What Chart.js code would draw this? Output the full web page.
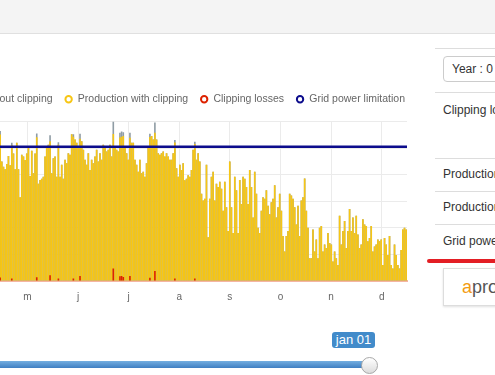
<!DOCTYPE html>
<html>
<head>
<meta charset="utf-8">
<script src="https://cdn.jsdelivr.net/npm/chart.js@4.4.1/dist/chart.umd.min.js"></script>
<style>
  html, body { margin: 0; padding: 0; width: 495px; height: 375px; overflow: hidden; background: #fff;
    font-family: "Liberation Sans", Arial, sans-serif; }
  .topbar { position: absolute; left: 0; top: 0; width: 495px; height: 33px; background: #f4f4f4; border-bottom: 1px solid #e0e0e0; }
  #clipChart { position: absolute; left: -110px; top: 82px; }
  .hline { position: absolute; left: 435px; width: 70px; height: 1px; background: #ddd; }
  .select { position: absolute; left: 443px; top: 56px; width: 80px; height: 26px; box-sizing: border-box;
    border: 1px solid #ccc; border-radius: 4px; font-size: 12px; color: #333; line-height: 24px; padding-left: 8px; white-space: nowrap; }
  .row { position: absolute; left: 443px; font-size: 12px; color: #333; white-space: nowrap; line-height: 14px; }
  .redbar { position: absolute; left: 427px; top: 259px; width: 80px; height: 4px; border-radius: 2px; background: #e31e24; }
  .logo { position: absolute; left: 443px; top: 268px; width: 70px; height: 38px; box-sizing: border-box;
    border: 1px solid #ddd; box-shadow: 0 1px 2px rgba(0,0,0,0.12); font-size: 18px; line-height: 36px; padding-left: 18px; color: #555; white-space: nowrap; }
  .logo b { color: #f39c12; font-weight: normal; }
  .track { position: absolute; left: -10px; top: 361px; width: 382px; height: 7px; border-radius: 4px;
    background: linear-gradient(#74aee0, #3f7fc2); }
  .knob { position: absolute; left: 361px; top: 357px; width: 17px; height: 17px; border-radius: 50%; box-sizing: border-box;
    background: linear-gradient(#ffffff, #dcdcdc); border: 1px solid #a8a8a8; }
  .tip { position: absolute; left: 332px; top: 332px; width: 43px; height: 16px; border-radius: 3px; background: #428bca;
    color: #fff; font-size: 13px; line-height: 16px; text-align: center; }
</style>
</head>
<body>
<div class="topbar"></div>
<canvas id="clipChart" width="527" height="231"></canvas>

<div class="hline" style="top:48px"></div>
<div class="select">Year : 0</div>
<div class="hline" style="top:92px"></div>
<div class="row" style="top:103px">Clipping losses</div>
<div class="hline" style="top:158px"></div>
<div class="row" style="top:167px">Production without clipping</div>
<div class="hline" style="top:191px"></div>
<div class="row" style="top:200px">Production with clipping</div>
<div class="hline" style="top:224px"></div>
<div class="row" style="top:234px">Grid power limitation</div>
<div class="redbar"></div>
<div class="logo"><b>a</b>pro</div>

<div class="tip">jan 01</div>
<div class="track"></div>
<div class="knob"></div>

<script>
// month initials for the x axis
const monthLabels = ['j', 'f', 'm', 'a', 'm', 'j', 'j', 'a', 's', 'o', 'n', 'd'];
// first visible bar = May 1st (day of year, 0 based)
const firstDay = 120;

// daily production without clipping
const prodWithout = [
  564, 450, 430, 420, 440, 470, 435, 520, 480, 420,
  520, 420, 315, 475, 468, 455, 480, 500, 395, 490,
  405, 480, 555, 366, 380, 385, 392, 468, 500, 513,
  548, 405, 462, 468, 392, 522, 392, 437, 385, 456,
  443, 481, 475, 552, 552, 532, 520, 507, 554, 526,
  494, 456, 437, 481, 418, 456, 443, 468, 494, 450,
  481, 456, 513, 507, 487, 494, 513, 468, 600, 500,
  494, 487, 558, 562, 560, 507, 481, 456, 558, 520,
  520, 456, 437, 411, 456, 405, 411, 392, 443, 507,
  554, 545, 532, 596, 532, 481, 475, 481, 487, 468,
  481, 468, 456, 456, 481, 530, 424, 392, 437, 418,
  443, 379, 385, 398, 392, 418, 494, 524, 456, 481,
  450, 328, 303, 309, 437, 165, 309, 392, 411, 303,
  366, 354, 373, 347, 264, 373, 277, 188, 450, 277,
  181, 392, 341, 181, 380, 290, 392, 385, 354, 290,
  418, 354, 239, 411, 328, 200, 181, 264, 315, 309,
  341, 283, 251, 296, 309, 360, 239, 277, 328, 264,
  169, 111, 169, 188, 328, 322, 309, 277, 213, 283,
  169, 303, 315, 386, 264, 200, 86, 86, 194, 111,
  156, 86, 200, 207, 111, 137, 124, 181, 143, 137,
  73, 111, 86, 60, 245, 137, 188, 226, 124, 188,
  271, 188, 239, 181, 245, 175, 124, 137, 232, 213,
  207, 150, 162, 207, 111, 130, 137, 156, 150, 156,
  60, 162, 137, 98, 169, 60, 47, 137, 98, 60,
  47, 117, 194, 200, 194
];

// daily production with clipping
const prodWith = [
  551, 450, 430, 420, 440, 470, 435, 511, 480, 420,
  520, 420, 315, 475, 468, 455, 480, 500, 395, 490,
  405, 480, 541, 366, 380, 385, 392, 468, 500, 513,
  526, 405, 462, 468, 392, 513, 392, 437, 385, 456,
  443, 481, 475, 552, 543, 532, 520, 507, 535, 526,
  494, 456, 437, 481, 418, 456, 443, 468, 494, 450,
  481, 456, 513, 507, 487, 494, 513, 468, 553, 500,
  494, 487, 540, 543, 545, 507, 481, 456, 539, 520,
  520, 456, 437, 411, 456, 405, 411, 392, 443, 507,
  542, 545, 532, 558, 532, 481, 475, 481, 487, 468,
  481, 468, 456, 456, 481, 521, 424, 392, 437, 418,
  443, 379, 385, 398, 392, 418, 494, 515, 456, 481,
  450, 328, 303, 309, 437, 165, 309, 392, 411, 303,
  366, 354, 373, 347, 264, 373, 277, 188, 450, 277,
  181, 392, 341, 181, 380, 290, 392, 385, 354, 290,
  418, 354, 239, 411, 328, 200, 181, 264, 315, 309,
  341, 283, 251, 296, 309, 360, 239, 277, 328, 264,
  169, 111, 169, 188, 328, 322, 309, 277, 213, 283,
  169, 303, 315, 386, 264, 200, 86, 86, 194, 111,
  156, 86, 200, 207, 111, 137, 124, 181, 143, 137,
  73, 111, 86, 60, 245, 137, 188, 226, 124, 188,
  271, 188, 239, 181, 245, 175, 124, 137, 232, 213,
  207, 150, 162, 207, 111, 130, 137, 156, 150, 156,
  60, 162, 137, 98, 169, 60, 47, 137, 98, 60,
  47, 117, 194, 200, 194
];

// daily clipping losses (zero after mid september)
const clippingLoss = [
  13, 0, 0, 0, 0, 0, 0, 9, 0, 0,
  0, 0, 0, 0, 0, 0, 0, 0, 0, 0,
  0, 0, 14, 0, 0, 0, 0, 0, 0, 0,
  22, 0, 0, 0, 0, 9, 0, 0, 0, 0,
  0, 0, 0, 0, 9, 0, 0, 0, 19, 0,
  0, 0, 0, 0, 0, 0, 0, 0, 0, 0,
  0, 0, 0, 0, 0, 0, 0, 0, 47, 0,
  0, 0, 18, 19, 15, 0, 0, 0, 19, 0,
  0, 0, 0, 0, 0, 0, 0, 0, 0, 0,
  12, 0, 0, 38, 0, 0, 0, 0, 0, 0,
  0, 0, 0, 0, 0, 9, 0, 0, 0, 0,
  0, 0, 0, 0, 0, 0, 0, 9, 0, 0
];

// grid power limitation (constant line)
const gridLimitDays = [0, 365];
const gridLimit = [505, 505];

const xMin = 78.35, xMax = 365;
const monthTicks = monthLabels.map((m, i) => (i + 0.5) * 365 / 12).filter(v => v >= xMin && v <= xMax);
const toPoints = arr => arr.map((v, i) => ({ x: firstDay + i + 0.5, y: v }));

// extra room under the legend
const legendGap = {
  id: 'legendGap',
  beforeInit(chart) {
    const fit = chart.legend.fit;
    chart.legend.fit = function () {
      fit.bind(chart.legend)();
      this.height += 7;
    };
  }
};

const barOpts = { grouped: false, barPercentage: 1, categoryPercentage: 0.97, borderWidth: 0 };

new Chart(document.getElementById('clipChart'), {
  type: 'bar',
  data: {
    datasets: [
      Object.assign({ label: 'Production without clipping', data: toPoints(prodWithout),
        backgroundColor: '#8f9ca4', borderColor: '#8f9ca4', order: 3 }, barOpts),
      Object.assign({ label: 'Production with clipping', data: toPoints(prodWith),
        backgroundColor: '#f7c614', borderColor: '#f7c614', order: 2 }, barOpts),
      Object.assign({ label: 'Clipping losses', data: toPoints(clippingLoss),
        backgroundColor: '#dd2200', borderColor: '#dd2200', order: 1 }, barOpts),
      {
        type: 'line', label: 'Grid power limitation',
        data: gridLimitDays.map((d, i) => ({ x: d, y: gridLimit[i] })),
        borderColor: '#0c0c8c', backgroundColor: '#0c0c8c', borderWidth: 2.5,
        pointRadius: 0, order: 0
      }
    ]
  },
  options: {
    responsive: false,
    animation: false,
    layout: { padding: 0 },
    plugins: {
      tooltip: { enabled: false },
      legend: {
        position: 'top',
        align: 'end',
        labels: {
          usePointStyle: true,
          boxWidth: 8,
          boxHeight: 4.5,
          padding: 12,
          color: '#666',
          font: { family: '"Liberation Sans", Arial, sans-serif', size: 10.5 },
          sort: (a, b) => a.datasetIndex - b.datasetIndex,
          generateLabels: chart => Chart.defaults.plugins.legend.labels.generateLabels(chart).map(l => {
            const ds = chart.data.datasets[l.datasetIndex];
            l.fillStyle = '#fff';
            l.strokeStyle = ds.borderColor;
            l.lineWidth = 2;
            l.pointStyle = 'circle';
            return l;
          })
        }
      }
    },
    scales: {
      x: {
        type: 'linear',
        offset: false,
        min: xMin,
        max: xMax,
        afterBuildTicks: axis => { axis.ticks = monthTicks.map(v => ({ value: v })); },
        ticks: {
          autoSkip: false, maxRotation: 0, padding: 10, color: '#666',
          font: { family: '"Liberation Sans", Arial, sans-serif', size: 10 },
          callback: v => monthLabels[Math.floor(v * 12 / 365)]
        },
        grid: { color: '#ebebeb', drawTicks: false, offset: false },
        border: { color: '#f5b5a2', width: 2 }
      },
      y: {
        min: 0,
        max: 600,
        afterFit: s => { s.width = 40; },
        ticks: { stepSize: 100, color: '#666', font: { size: 10 } },
        grid: { color: '#ebebeb', drawTicks: false },
        border: { display: false }
      },
      yRight: {
        position: 'right',
        min: 0,
        max: 600,
        afterFit: s => { s.width = 10; },
        ticks: { display: false },
        grid: { display: false },
        border: { display: false }
      }
    }
  },
  plugins: [legendGap]
});
</script>
</body>
</html>
